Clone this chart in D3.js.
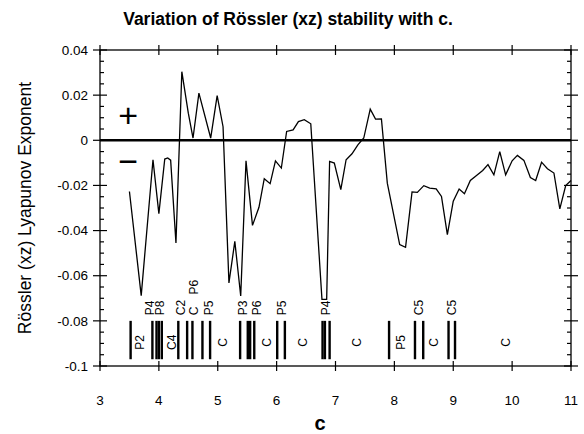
<!DOCTYPE html>
<html>
<head>
<meta charset="utf-8">
<script src="https://cdn.jsdelivr.net/npm/d3@7"></script>
<style>
  body { margin: 0; background: #fff; }
  text { font-family: "Liberation Sans", Arial, sans-serif; fill: #000; }
</style>
</head>
<body>
<svg width="584" height="434"></svg>
<script>
// lyapunov exponent vs c
var cVals = [3.5, 3.7, 3.9, 4.0, 4.1, 4.15, 4.2, 4.29, 4.39, 4.5, 4.58, 4.68, 4.88, 4.99, 5.09,
  5.19, 5.29, 5.39, 5.48, 5.59, 5.7, 5.79, 5.89, 5.98, 6.08, 6.17, 6.28, 6.37, 6.47, 6.58,
  6.77, 6.85, 6.9, 6.98, 7.09, 7.18, 7.28, 7.38, 7.48, 7.59, 7.68, 7.78, 7.88, 8.09, 8.19,
  8.3, 8.39, 8.5, 8.6, 8.71, 8.8, 8.9, 9.0, 9.1, 9.19, 9.29, 9.39, 9.5, 9.59, 9.69, 9.79,
  9.89, 10.0, 10.09, 10.2, 10.31, 10.4, 10.5, 10.6, 10.71, 10.81, 10.91, 11.0];
var lyap = [-0.0227, -0.0688, -0.0086, -0.0325, -0.0083, -0.0078, -0.0088, -0.0455, 0.0304, 0.012, 0.001, 0.0209, 0.001, 0.0198, 0.006,
  -0.0632, -0.0448, -0.069, -0.0091, -0.0377, -0.0297, -0.017, -0.0192, -0.0091, -0.0123, 0.0039, 0.0046, 0.0083, 0.0091, 0.0073,
  -0.0705, -0.0705, -0.0094, -0.0101, -0.0219, -0.0086, -0.006, -0.002, 0.001, 0.0138, 0.0094, 0.0095, -0.019, -0.0462, -0.0474,
  -0.0229, -0.0231, -0.0201, -0.0212, -0.0215, -0.0249, -0.0418, -0.027, -0.0216, -0.0237, -0.0178, -0.0157, -0.0134, -0.0108, -0.0153, -0.005,
  -0.0153, -0.0091, -0.0067, -0.0089, -0.0165, -0.0178, -0.0097, -0.0126, -0.0145, -0.0304, -0.0201, -0.0178];

// regime boundaries (vertical bars) and their labels
var barC = [3.52, 3.89, 3.96, 4.0, 4.05, 4.33, 4.48, 4.57, 4.74, 4.87, 5.38, 5.51, 5.55, 5.62,
  6.01, 6.14, 6.78, 6.82, 6.9, 7.91, 8.35, 8.49, 8.92, 9.03];
var topLabels = ["P4", "P8", "C2", "C", "P5", "P3", "P6", "P5", "P4", "C5", "C5"];
var topLabelC = [3.84, 4.02, 4.38, 4.6, 4.85, 5.43, 5.66, 6.08, 6.83, 8.41, 8.97];
var highLabels = ["P6"];
var highLabelC = [4.6];
var midLabels = ["P2", "C4", "C", "C", "C", "C", "P5", "C", "C"];
var midLabelC = [3.68, 4.22, 5.09, 5.83, 6.45, 7.37, 8.11, 8.67, 9.9];

var xTicks = [3, 4, 5, 6, 7, 8, 9, 10, 11];
var yTicks = [0.04, 0.02, 0, -0.02, -0.04, -0.06, -0.08, -0.1];
var yTickLabels = ["0.04", "0.02", "0", "-0.02", "-0.04", "-0.06", "-0.08", "-0.1"];

var svg = d3.select("svg"),
  margin = {top: 50, right: 13, bottom: 68, left: 100},
  width = +svg.attr("width") - margin.left - margin.right,
  height = +svg.attr("height") - margin.top - margin.bottom,
  g = svg.append("g").attr("transform", "translate(" + margin.left + "," + margin.top + ")");

var x = d3.scaleLinear().domain([3, 11]).range([0, width]);
var y = d3.scaleLinear().domain([-0.1, 0.04]).range([height, 0]);

// frame
g.append("rect")
    .attr("width", width).attr("height", height)
    .attr("fill", "none").attr("stroke", "#000").attr("stroke-width", 1.3);

// x ticks crossing top and bottom edges
xTicks.forEach(function(t) {
  [0, height].forEach(function(yy) {
    g.append("line")
        .attr("x1", x(t)).attr("x2", x(t))
        .attr("y1", yy - 5).attr("y2", yy + 5)
        .attr("stroke", "#000").attr("stroke-width", 1.2);
  });
});

// y ticks: major cross the edge, minor point inward
var minorY = d3.range(-0.1, 0.0401, 0.005);
minorY.forEach(function(t) {
  var major = Math.abs(Math.round(t * 100) % 2) === 0 && Math.abs(t * 100 - Math.round(t * 100)) < 1e-6;
  var yy = y(t);
  g.append("line").attr("x1", major ? -7 : 0).attr("x2", major ? 7 : 4)
      .attr("y1", yy).attr("y2", yy).attr("stroke", "#000").attr("stroke-width", 1.2);
  g.append("line").attr("x1", width - (major ? 7 : 4)).attr("x2", width + (major ? 7 : 0))
      .attr("y1", yy).attr("y2", yy).attr("stroke", "#000").attr("stroke-width", 1.2);
});

// tick labels
g.append("g").selectAll("text")
  .data(xTicks)
  .enter().append("text")
    .attr("x", function(d) { return x(d); })
    .attr("y", height + 39)
    .attr("text-anchor", "middle")
    .style("font-size", "13.5px")
    .text(function(d) { return d; });

g.append("g").selectAll("text")
  .data(yTicks)
  .enter().append("text")
    .attr("x", -12)
    .attr("y", function(d) { return y(d); })
    .attr("dy", "0.35em")
    .attr("text-anchor", "end")
    .style("font-size", "13.5px")
    .text(function(d, i) { return yTickLabels[i]; });

// zero line
g.append("line")
    .attr("x1", 0).attr("x2", width)
    .attr("y1", y(0)).attr("y2", y(0))
    .attr("stroke", "#000").attr("stroke-width", 2.6);

// the exponent curve
var pts = cVals.map(function(c, i) { return [c, lyap[i]]; });
var line = d3.line()
    .x(function(d) { return x(d[0]); })
    .y(function(d) { return y(d[1]); });
g.append("path")
    .datum(pts)
    .attr("d", line)
    .attr("fill", "none")
    .attr("stroke", "#000")
    .attr("stroke-width", 1.3)
    .attr("stroke-linejoin", "miter");

// + and - markers
g.append("text").attr("x", x(3.48)).attr("y", y(0.011)).attr("dy", "0.35em")
    .attr("text-anchor", "middle").style("font-size", "34px").text("+");
g.append("text").attr("x", x(3.48)).attr("y", y(-0.009)).attr("dy", "0.35em")
    .attr("text-anchor", "middle").style("font-size", "34px").text("\u2212");

// regime bars
g.append("g").selectAll("line")
  .data(barC)
  .enter().append("line")
    .attr("x1", function(d) { return x(d); })
    .attr("x2", function(d) { return x(d); })
    .attr("y1", y(-0.08)).attr("y2", y(-0.097))
    .attr("stroke", "#000").attr("stroke-width", 2.4);

function vlabels(names, cs, yStart, anchor) {
  g.append("g").selectAll("text")
    .data(names)
    .enter().append("text")
      .attr("transform", function(d, i) { return "translate(" + x(cs[i]) + "," + yStart + ")rotate(-90)"; })
      .attr("dy", "0.35em")
      .attr("text-anchor", anchor)
      .style("font-size", "12px")
      .text(function(d) { return d; });
}
vlabels(topLabels, topLabelC, y(-0.0775), "start");
vlabels(highLabels, highLabelC, y(-0.0683), "start");
vlabels(midLabels, midLabelC, y(-0.0895), "middle");

// titles
svg.append("text")
    .attr("x", 288).attr("y", 25)
    .attr("text-anchor", "middle")
    .style("font-size", "17.5px").style("font-weight", "bold")
    .text("Variation of R\u00f6ssler (xz) stability with c.");

svg.append("text")
    .attr("transform", "translate(31," + (margin.top + height / 2) + ")rotate(-90)")
    .attr("text-anchor", "middle")
    .style("font-size", "17.5px")
    .text("R\u00f6ssler (xz) Lyapunov Exponent");

svg.append("text")
    .attr("x", 320).attr("y", 430)
    .attr("text-anchor", "middle")
    .style("font-size", "20px").style("font-weight", "bold")
    .text("c");
</script>
</body>
</html>
